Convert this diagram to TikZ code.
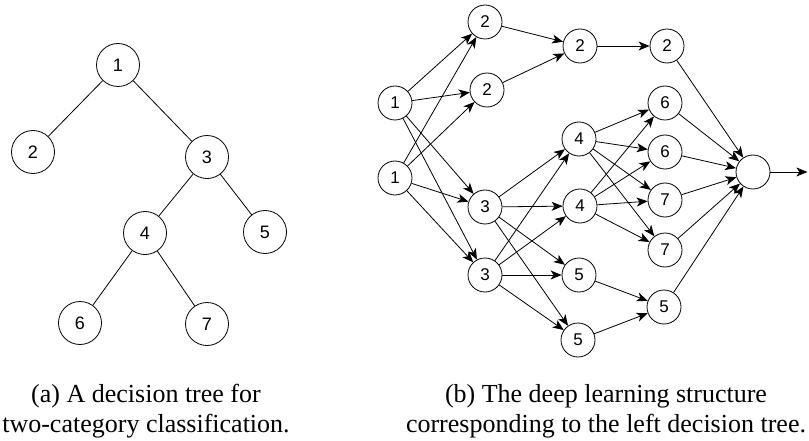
\documentclass[tikz,border=0pt]{standalone}
\usepackage{fontspec}
\setmainfont{Liberation Serif}
\setsansfont{Liberation Sans}
\usetikzlibrary{positioning,arrows.meta}
\tikzstyle{TreeNode}=[circle, draw=black, line width=0.8pt, minimum size=43pt, inner sep=0pt, font=\sffamily\fontsize{18}{18}\selectfont]
\tikzstyle{NetNode}=[circle, draw=black, line width=0.8pt, minimum size=34pt, inner sep=0pt, font=\sffamily\fontsize{17}{17}\selectfont]
\tikzstyle{TreeEdge}=[line width=0.8pt]
\tikzstyle{NetArrow}=[line width=0.8pt, -{Stealth[length=11pt,width=9pt,inset=3pt]}]
\tikzstyle{CaptionNode}=[align=center, font=\fontsize{26}{30}\selectfont]

\begin{document}
\begin{tikzpicture}[x=1pt, y=-1pt]

    \useasboundingbox (0,0) rectangle (809,441);

    % (a) decision tree
    \node (T1) [TreeNode] at (118,65) {1};
    \node (T2) [TreeNode] at (33,152) {2};
    \node (T3) [TreeNode] at (207,157) {3};
    \node (T4) [TreeNode] at (145,233) {4};
    \node (T5) [TreeNode] at (265,232) {5};
    \node (T6) [TreeNode] at (80,323) {6};
    \node (T7) [TreeNode] at (207,324) {7};

    \draw [TreeEdge] (T1) -- (T2);
    \draw [TreeEdge] (T1) -- (T3);
    \draw [TreeEdge] (T3) -- (T4);
    \draw [TreeEdge] (T3) -- (T5);
    \draw [TreeEdge] (T4) -- (T6);
    \draw [TreeEdge] (T4) -- (T7);

    % (b) deep learning structure
    \node (InA) [NetNode] at (395,103) {1};
    \node (InB) [NetNode] at (395,178) {1};
    \node (TwoA) [NetNode] at (485,22) {2};
    \node (TwoB) [NetNode] at (487,90) {2};
    \node (ThreeA) [NetNode] at (485,207) {3};
    \node (ThreeB) [NetNode] at (485,275) {3};
    \node (TwoC) [NetNode] at (580,46) {2};
    \node (TwoD) [NetNode] at (667,46) {2};
    \node (FourA) [NetNode] at (579,139) {4};
    \node (FourB) [NetNode] at (580,206) {4};
    \node (FiveA) [NetNode] at (579,275) {5};
    \node (FiveB) [NetNode] at (578,340) {5};
    \node (SixA) [NetNode] at (665,103) {6};
    \node (SixB) [NetNode] at (665,152) {6};
    \node (SevenA) [NetNode] at (665,200) {7};
    \node (SevenB) [NetNode] at (665,250) {7};
    \node (FiveC) [NetNode] at (664,307) {5};
    \node (Out) [NetNode] at (753,172) {};
    \coordinate [right=37pt of Out] (OutEnd);

    \draw [NetArrow] (InA) -- (TwoA);
    \draw [NetArrow] (InA) -- (TwoB);
    \draw [NetArrow] (InA) -- (ThreeA);
    \draw [NetArrow] (InA) -- (ThreeB);
    \draw [NetArrow] (InB) -- (TwoA);
    \draw [NetArrow] (InB) -- (TwoB);
    \draw [NetArrow] (InB) -- (ThreeA);
    \draw [NetArrow] (InB) -- (ThreeB);

    \draw [NetArrow] (TwoA) -- (TwoC);
    \draw [NetArrow] (TwoB) -- (TwoC);
    \draw [NetArrow] (TwoC) -- (TwoD);

    \draw [NetArrow] (ThreeA) -- (FourA);
    \draw [NetArrow] (ThreeA) -- (FourB);
    \draw [NetArrow] (ThreeA) -- (FiveA);
    \draw [NetArrow] (ThreeA) -- (FiveB);
    \draw [NetArrow] (ThreeB) -- (FourA);
    \draw [NetArrow] (ThreeB) -- (FourB);
    \draw [NetArrow] (ThreeB) -- (FiveA);
    \draw [NetArrow] (ThreeB) -- (FiveB);

    \draw [NetArrow] (FourA) -- (SixA);
    \draw [NetArrow] (FourA) -- (SixB);
    \draw [NetArrow] (FourA) -- (SevenA);
    \draw [NetArrow] (FourA) -- (SevenB);
    \draw [NetArrow] (FourB) -- (SixA);
    \draw [NetArrow] (FourB) -- (SixB);
    \draw [NetArrow] (FourB) -- (SevenA);
    \draw [NetArrow] (FourB) -- (SevenB);
    \draw [NetArrow] (FiveA) -- (FiveC);
    \draw [NetArrow] (FiveB) -- (FiveC);

    \draw [NetArrow] (TwoD) -- (Out);
    \draw [NetArrow] (SixA) -- (Out);
    \draw [NetArrow] (SixB) -- (Out);
    \draw [NetArrow] (SevenA) -- (Out);
    \draw [NetArrow] (SevenB) -- (Out);
    \draw [NetArrow] (FiveC) -- (Out);
    \draw [NetArrow] (Out) -- (OutEnd);

    % captions
    \node (CapA) [CaptionNode] at (146,411) {(a) A decision tree for\\ two-category classification.};
    \node (CapB) [CaptionNode] at (606,411) {(b) The deep learning structure\\ corresponding to the left decision tree.};

\end{tikzpicture}
\end{document}
